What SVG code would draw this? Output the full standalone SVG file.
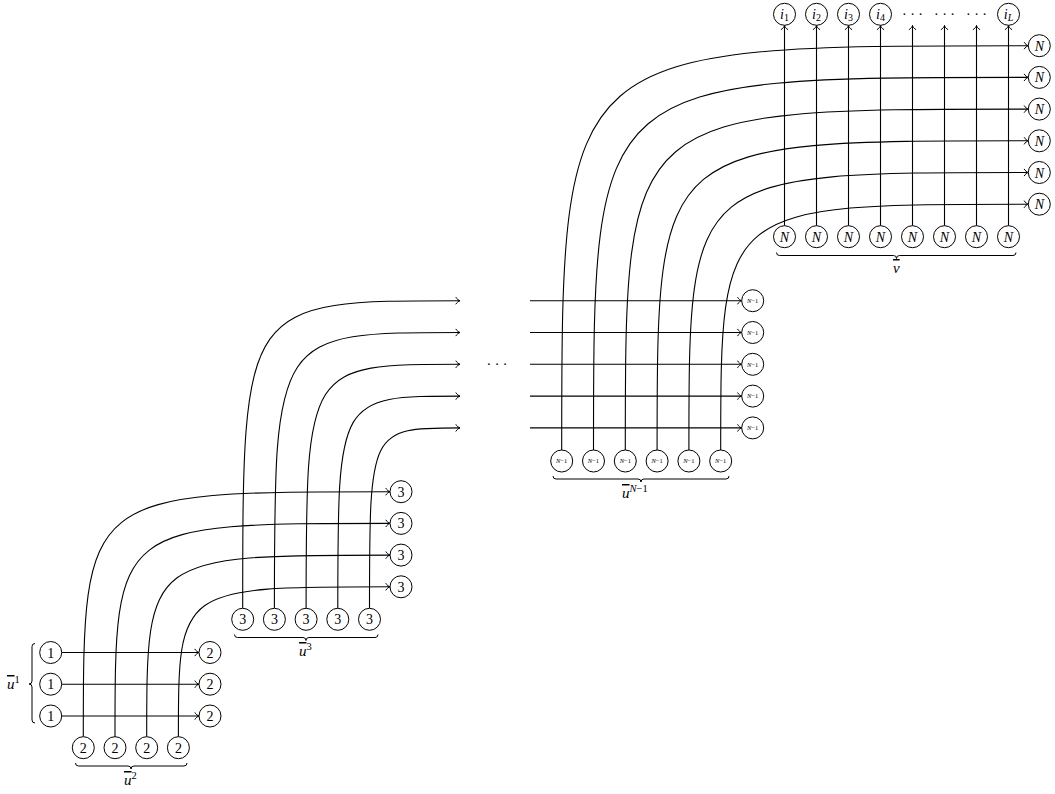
<svg xmlns="http://www.w3.org/2000/svg" width="1055" height="794" viewBox="0 0 1055 794">
<style>
.ln{fill:none;stroke:#000;stroke-width:1.1}
.nd{fill:#fff;stroke:#000;stroke-width:1}
.br{fill:none;stroke:#000;stroke-width:1}
.t{font-family:"Liberation Serif",serif;font-size:14px;text-anchor:middle;fill:#000}
.it{font-style:italic}
.sm{font-family:"Liberation Serif",serif;font-size:6.5px;text-anchor:middle;fill:#000}
.lb{font-family:"Liberation Serif",serif;font-size:15px;fill:#000}
.dt{font-family:"Liberation Serif",serif;font-size:14px;text-anchor:middle;fill:#000}
</style>
<defs>
<marker id="ar" markerUnits="userSpaceOnUse" markerWidth="10" markerHeight="10" refX="0" refY="0" viewBox="-6 -5 8 10" orient="auto" overflow="visible">
<path d="M-4.2,-3.6 C-3.2,-1.6 -1.2,-0.4 0,0 C-1.2,0.4 -3.2,1.6 -4.2,3.6" fill="none" stroke="#000" stroke-width="1"/>
</marker>
</defs>
<g id="connectors">
<path class="ln" marker-end="url(#ar)" d="M61.7,652.5 H199"/>
<path class="ln" marker-end="url(#ar)" d="M61.7,684.2 H199"/>
<path class="ln" marker-end="url(#ar)" d="M61.7,716 H199"/>
<path class="ln" marker-end="url(#ar)" d="M83.3,736.7 C83.3,491.7 83.3,491.7 390,491.7"/>
<path class="ln" marker-end="url(#ar)" d="M115,736.7 C115,523.4 115,523.4 390,523.4"/>
<path class="ln" marker-end="url(#ar)" d="M146.7,736.7 C146.7,555.1 146.7,555.1 390,555.1"/>
<path class="ln" marker-end="url(#ar)" d="M178.4,736.7 C178.4,586.8 178.4,586.8 390,586.8"/>
<path class="ln" marker-end="url(#ar)" d="M242.7,608.3 C242.7,300.7 242.7,300.7 460,300.7"/>
<path class="ln" marker-end="url(#ar)" d="M274.4,608.3 C274.4,332.5 274.4,332.5 460,332.5"/>
<path class="ln" marker-end="url(#ar)" d="M306.1,608.3 C306.1,364.3 306.1,364.3 460,364.3"/>
<path class="ln" marker-end="url(#ar)" d="M337.8,608.3 C337.8,396.1 337.8,396.1 460,396.1"/>
<path class="ln" marker-end="url(#ar)" d="M369.5,608.3 C369.5,427.9 369.5,427.9 460,427.9"/>
<path class="ln" marker-end="url(#ar)" d="M530,300.7 H741.7"/>
<path class="ln" marker-end="url(#ar)" d="M530,332.5 H741.7"/>
<path class="ln" marker-end="url(#ar)" d="M530,364.3 H741.7"/>
<path class="ln" marker-end="url(#ar)" d="M530,396.1 H741.7"/>
<path class="ln" marker-end="url(#ar)" d="M530,427.9 H741.7"/>
<path class="ln" marker-end="url(#ar)" d="M561.7,450 C561.7,45.7 561.7,45.7 1028.3,45.7"/>
<path class="ln" marker-end="url(#ar)" d="M593.5,450 C593.5,77.4 593.5,77.4 1028.3,77.4"/>
<path class="ln" marker-end="url(#ar)" d="M625.3,450 C625.3,109.1 625.3,109.1 1028.3,109.1"/>
<path class="ln" marker-end="url(#ar)" d="M657.1,450 C657.1,140.8 657.1,140.8 1028.3,140.8"/>
<path class="ln" marker-end="url(#ar)" d="M688.9,450 C688.9,172.5 688.9,172.5 1028.3,172.5"/>
<path class="ln" marker-end="url(#ar)" d="M720.7,450 C720.7,204.2 720.7,204.2 1028.3,204.2"/>
<path class="ln" marker-end="url(#ar)" d="M784.5,225.7 V25.5"/>
<path class="ln" marker-end="url(#ar)" d="M816.5,225.7 V25.5"/>
<path class="ln" marker-end="url(#ar)" d="M848.5,225.7 V25.5"/>
<path class="ln" marker-end="url(#ar)" d="M880.5,225.7 V25.5"/>
<path class="ln" marker-end="url(#ar)" d="M912.5,225.7 V25.5"/>
<path class="ln" marker-end="url(#ar)" d="M944.5,225.7 V25.5"/>
<path class="ln" marker-end="url(#ar)" d="M976.5,225.7 V25.5"/>
<path class="ln" marker-end="url(#ar)" d="M1008.5,225.7 V25.5"/>
</g>
<g id="n1a"><circle class="nd" cx="50.7" cy="652.5" r="11"/><text class="t" x="50.7" y="657.5">1</text></g>
<g id="n1b"><circle class="nd" cx="50.7" cy="684.2" r="11"/><text class="t" x="50.7" y="689.2">1</text></g>
<g id="n1c"><circle class="nd" cx="50.7" cy="716" r="11"/><text class="t" x="50.7" y="721">1</text></g>
<g id="n2r1"><circle class="nd" cx="210" cy="652.5" r="11"/><text class="t" x="210" y="657.5">2</text></g>
<g id="n2r2"><circle class="nd" cx="210" cy="684.2" r="11"/><text class="t" x="210" y="689.2">2</text></g>
<g id="n2r3"><circle class="nd" cx="210" cy="716" r="11"/><text class="t" x="210" y="721">2</text></g>
<g id="n2b1"><circle class="nd" cx="83.3" cy="747.7" r="11"/><text class="t" x="83.3" y="752.7">2</text></g>
<g id="n2b2"><circle class="nd" cx="115" cy="747.7" r="11"/><text class="t" x="115" y="752.7">2</text></g>
<g id="n2b3"><circle class="nd" cx="146.7" cy="747.7" r="11"/><text class="t" x="146.7" y="752.7">2</text></g>
<g id="n2b4"><circle class="nd" cx="178.4" cy="747.7" r="11"/><text class="t" x="178.4" y="752.7">2</text></g>
<g id="n3r1"><circle class="nd" cx="401" cy="491.7" r="11"/><text class="t" x="401" y="496.7">3</text></g>
<g id="n3r2"><circle class="nd" cx="401" cy="523.4" r="11"/><text class="t" x="401" y="528.4">3</text></g>
<g id="n3r3"><circle class="nd" cx="401" cy="555.1" r="11"/><text class="t" x="401" y="560.1">3</text></g>
<g id="n3r4"><circle class="nd" cx="401" cy="586.8" r="11"/><text class="t" x="401" y="591.8">3</text></g>
<g id="n3b1"><circle class="nd" cx="242.7" cy="619.3" r="11"/><text class="t" x="242.7" y="624.3">3</text></g>
<g id="n3b2"><circle class="nd" cx="274.4" cy="619.3" r="11"/><text class="t" x="274.4" y="624.3">3</text></g>
<g id="n3b3"><circle class="nd" cx="306.1" cy="619.3" r="11"/><text class="t" x="306.1" y="624.3">3</text></g>
<g id="n3b4"><circle class="nd" cx="337.8" cy="619.3" r="11"/><text class="t" x="337.8" y="624.3">3</text></g>
<g id="n3b5"><circle class="nd" cx="369.5" cy="619.3" r="11"/><text class="t" x="369.5" y="624.3">3</text></g>
<g id="dotsmid"><text class="dt" x="497" y="368.5">· · ·</text></g>
<g id="nm1r1"><circle class="nd" cx="752.7" cy="300.7" r="11"/><text class="sm" x="752.7" y="303"><tspan class="it">N</tspan>−1</text></g>
<g id="nm1r2"><circle class="nd" cx="752.7" cy="332.5" r="11"/><text class="sm" x="752.7" y="334.8"><tspan class="it">N</tspan>−1</text></g>
<g id="nm1r3"><circle class="nd" cx="752.7" cy="364.3" r="11"/><text class="sm" x="752.7" y="366.6"><tspan class="it">N</tspan>−1</text></g>
<g id="nm1r4"><circle class="nd" cx="752.7" cy="396.1" r="11"/><text class="sm" x="752.7" y="398.4"><tspan class="it">N</tspan>−1</text></g>
<g id="nm1r5"><circle class="nd" cx="752.7" cy="427.9" r="11"/><text class="sm" x="752.7" y="430.2"><tspan class="it">N</tspan>−1</text></g>
<g id="nm1b1"><circle class="nd" cx="561.7" cy="461" r="11"/><text class="sm" x="561.7" y="463.3"><tspan class="it">N</tspan>−1</text></g>
<g id="nm1b2"><circle class="nd" cx="593.5" cy="461" r="11"/><text class="sm" x="593.5" y="463.3"><tspan class="it">N</tspan>−1</text></g>
<g id="nm1b3"><circle class="nd" cx="625.3" cy="461" r="11"/><text class="sm" x="625.3" y="463.3"><tspan class="it">N</tspan>−1</text></g>
<g id="nm1b4"><circle class="nd" cx="657.1" cy="461" r="11"/><text class="sm" x="657.1" y="463.3"><tspan class="it">N</tspan>−1</text></g>
<g id="nm1b5"><circle class="nd" cx="688.9" cy="461" r="11"/><text class="sm" x="688.9" y="463.3"><tspan class="it">N</tspan>−1</text></g>
<g id="nm1b6"><circle class="nd" cx="720.7" cy="461" r="11"/><text class="sm" x="720.7" y="463.3"><tspan class="it">N</tspan>−1</text></g>
<g id="nr1"><circle class="nd" cx="1039.3" cy="45.7" r="11"/><text class="t it" x="1039.3" y="50.7">N</text></g>
<g id="nr2"><circle class="nd" cx="1039.3" cy="77.4" r="11"/><text class="t it" x="1039.3" y="82.4">N</text></g>
<g id="nr3"><circle class="nd" cx="1039.3" cy="109.1" r="11"/><text class="t it" x="1039.3" y="114.1">N</text></g>
<g id="nr4"><circle class="nd" cx="1039.3" cy="140.8" r="11"/><text class="t it" x="1039.3" y="145.8">N</text></g>
<g id="nr5"><circle class="nd" cx="1039.3" cy="172.5" r="11"/><text class="t it" x="1039.3" y="177.5">N</text></g>
<g id="nr6"><circle class="nd" cx="1039.3" cy="204.2" r="11"/><text class="t it" x="1039.3" y="209.2">N</text></g>
<g id="nb1"><circle class="nd" cx="784.5" cy="236.7" r="11"/><text class="t it" x="784.5" y="241.7">N</text></g>
<g id="nb2"><circle class="nd" cx="816.5" cy="236.7" r="11"/><text class="t it" x="816.5" y="241.7">N</text></g>
<g id="nb3"><circle class="nd" cx="848.5" cy="236.7" r="11"/><text class="t it" x="848.5" y="241.7">N</text></g>
<g id="nb4"><circle class="nd" cx="880.5" cy="236.7" r="11"/><text class="t it" x="880.5" y="241.7">N</text></g>
<g id="nb5"><circle class="nd" cx="912.5" cy="236.7" r="11"/><text class="t it" x="912.5" y="241.7">N</text></g>
<g id="nb6"><circle class="nd" cx="944.5" cy="236.7" r="11"/><text class="t it" x="944.5" y="241.7">N</text></g>
<g id="nb7"><circle class="nd" cx="976.5" cy="236.7" r="11"/><text class="t it" x="976.5" y="241.7">N</text></g>
<g id="nb8"><circle class="nd" cx="1008.5" cy="236.7" r="11"/><text class="t it" x="1008.5" y="241.7">N</text></g>
<g id="i1"><circle class="nd" cx="784.5" cy="14.3" r="11"/><text class="t" x="784.5" y="18.5"><tspan class="it">i</tspan><tspan font-size="10" dy="2">1</tspan></text></g>
<g id="i2"><circle class="nd" cx="816.5" cy="14.3" r="11"/><text class="t" x="816.5" y="18.5"><tspan class="it">i</tspan><tspan font-size="10" dy="2">2</tspan></text></g>
<g id="i3"><circle class="nd" cx="848.5" cy="14.3" r="11"/><text class="t" x="848.5" y="18.5"><tspan class="it">i</tspan><tspan font-size="10" dy="2">3</tspan></text></g>
<g id="i4"><circle class="nd" cx="880.5" cy="14.3" r="11"/><text class="t" x="880.5" y="18.5"><tspan class="it">i</tspan><tspan font-size="10" dy="2">4</tspan></text></g>
<g id="dots1"><text class="dt" x="912.5" y="18.5">· · ·</text></g>
<g id="dots2"><text class="dt" x="944.5" y="18.5">· · ·</text></g>
<g id="dots3"><text class="dt" x="976.5" y="18.5">· · ·</text></g>
<g id="iL"><circle class="nd" cx="1008.5" cy="14.3" r="11"/><text class="t" x="1008.5" y="18.5"><tspan class="it">i</tspan><tspan font-size="10" dy="2" class="it">L</tspan></text></g>
<g id="brace-u1">
<path class="br" d="M35,643.5 q-3,0 -3,3 V681 q0,3 -3,3 q3,0 3,3 V720 q0,3 3,3"/>
<text class="lb" x="7" y="689"><tspan class="it" text-decoration="overline">u</tspan><tspan font-size="10.5" dy="-6">1</tspan></text>
</g>
<g id="brace-u2">
<path class="br" d="M75.5,763 q0,3 3,3 H128 q3,0 3,3 q0,-3 3,-3 H184 q3,0 3,-3"/>
<text class="lb" x="124" y="785"><tspan class="it" text-decoration="overline">u</tspan><tspan font-size="10.5" dy="-6">2</tspan></text>
</g>
<g id="brace-u3">
<path class="br" d="M234.5,634.5 q0,3 3,3 H303 q3,0 3,3 q0,-3 3,-3 H375 q3,0 3,-3"/>
<text class="lb" x="299" y="656"><tspan class="it" text-decoration="overline">u</tspan><tspan font-size="10.5" dy="-6">3</tspan></text>
</g>
<g id="brace-uN1">
<path class="br" d="M553,476 q0,3 3,3 H638 q3,0 3,3 q0,-3 3,-3 H726 q3,0 3,-3"/>
<text class="lb" x="622" y="498"><tspan class="it" text-decoration="overline">u</tspan><tspan font-size="10.5" dy="-6"><tspan class="it">N</tspan>−1</tspan></text>
</g>
<g id="brace-v">
<path class="br" d="M776.5,252.5 q0,3 3,3 H893.5 q3,0 3,3 q0,-3 3,-3 H1013 q3,0 3,-3"/>
<text class="lb it" x="893" y="273" text-decoration="overline">v</text>
</g>
</svg>
